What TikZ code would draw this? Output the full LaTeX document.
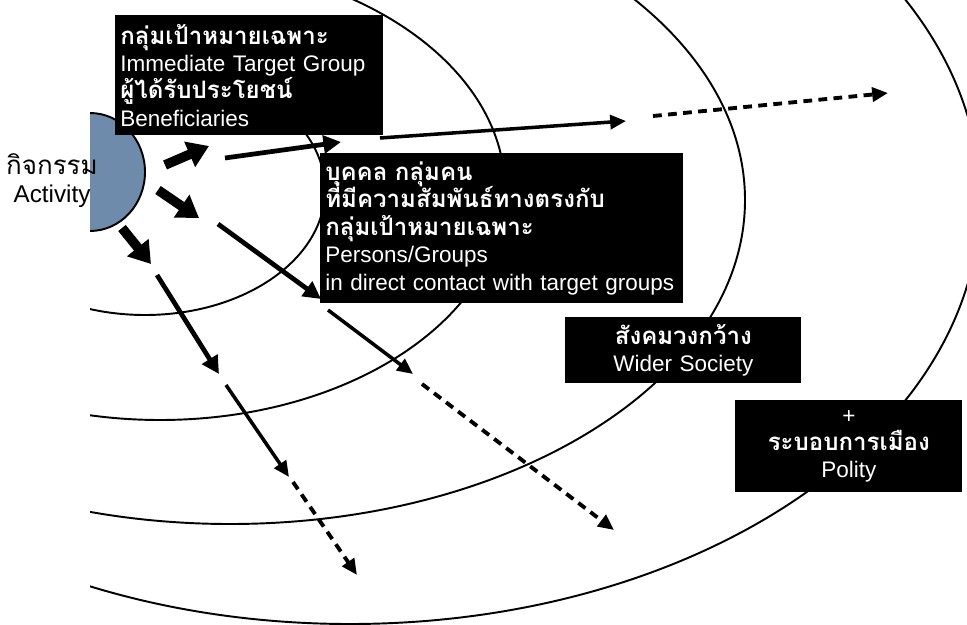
\documentclass[tikz,border=0pt]{standalone}
\usepackage{fontspec}
\setmainfont{Liberation Sans}
\newfontfamily\thaifont[Script=Thai, Scale=1.07]{Loma}
\usetikzlibrary{arrows.meta}
\definecolor{activityblue}{RGB}{111,139,171}
\newcommand{\diagfont}{\fontsize{12.8}{15.6}\selectfont\lineskiplimit=-20pt}
\newcommand{\thaitext}[1]{{\thaifont\bfseries #1}}

\begin{document}
\begin{tikzpicture}[x=0.02cm, y=-0.02cm,
    ring/.style={line width=1.1pt},
    blackbox/.style={fill=black, text=white, anchor=north west, inner xsep=0.1cm, inner ysep=0pt, font=\diagfont},
    fatarrow/.style={line width=5.5pt, -{Triangle[length=12pt, width=15pt]}},
    boldarrow/.style={line width=2.7pt, -{Triangle[length=10pt, width=10pt]}},
    thinarrow/.style={line width=2pt, -{Triangle[length=9pt, width=8pt]}},
    dasharrow/.style={thinarrow, line width=2.2pt, dash pattern=on 5pt off 3.6pt}]
    \useasboundingbox (0,0) rectangle (967,625);

    \begin{scope}
      \clip (90,625) -- (90,140) -- (115,140) -- (115,0) -- (967,0) -- (967,625) -- cycle;
      \draw[ring] (145,190) ellipse [x radius=180, y radius=125];
      \draw[ring] (160,190) ellipse [x radius=345, y radius=230];
      \draw[ring] (230,200) ellipse [x radius=515, y radius=324];
      \draw[ring] (350,200) ellipse [x radius=630, y radius=424];
    \end{scope}
    \begin{scope}
      \clip (90,0) rectangle (967,625);
      \filldraw[fill=activityblue, draw=black, line width=1.1pt] (90,172) ellipse [x radius=55, y radius=59];
    \end{scope}

    \node[font=\fontsize{13.8}{16}\selectfont, align=center] (activity) at (52,181) {{\thaifont กิจกรรม}\\Activity};

    \node[blackbox, text width=5.16cm, minimum height=2.4cm, align=left] (target) at (115,15)
      {\thaitext{กลุ่มเป้าหมายเฉพาะ}\\Immediate Target Group\\\thaitext{ผู้ได้รับประโยชน์}\\Beneficiaries};
    \node[blackbox, text width=7.06cm, minimum height=3cm, align=left] (contact) at (320,153)
      {\thaitext{บุคคล กลุ่มคน}\\\thaitext{ที่มีความสัมพันธ์ทางตรงกับ}\\\thaitext{กลุ่มเป้าหมายเฉพาะ}\\Persons/Groups\\in direct contact with target groups};
    \node[blackbox, text width=4.52cm, minimum height=1.32cm, align=center] (society) at (565,317)
      {\thaitext{สังคมวงกว้าง}\\Wider Society};
    \node[blackbox, text width=4.34cm, minimum height=1.84cm, align=center] (polity) at (735,400)
      {+\\\thaitext{ระบอบการเมือง}\\Polity};

    \coordinate (upA) at (165,165);  \coordinate (upA') at (209,146);
    \coordinate (midA) at (158,190); \coordinate (midA') at (199,218);
    \coordinate (lowA) at (122,228); \coordinate (lowA') at (151,264);
    \coordinate (upB) at (225,158);  \coordinate (upB') at (341,142);
    \coordinate (midB) at (218,224); \coordinate (midB') at (321,299);
    \coordinate (lowB) at (157,275); \coordinate (lowB') at (219,374);
    \coordinate (upC) at (380,138);  \coordinate (upC') at (626,121);
    \coordinate (midC) at (328,310); \coordinate (midC') at (413,374);
    \coordinate (lowC) at (226,385); \coordinate (lowC') at (289,477);
    \coordinate (upD) at (653,116);  \coordinate (upD') at (888,93);
    \coordinate (midD) at (422,384); \coordinate (midD') at (614,530);
    \coordinate (lowD) at (293,482); \coordinate (lowD') at (357,575);

    \foreach \r in {up,mid,low}{
      \draw[fatarrow] (\r A) -- (\r A');
      \draw[boldarrow] (\r B) -- (\r B');
      \draw[thinarrow] (\r C) -- (\r C');
      \draw[dasharrow] (\r D) -- (\r D');
    }
\end{tikzpicture}
\end{document}
